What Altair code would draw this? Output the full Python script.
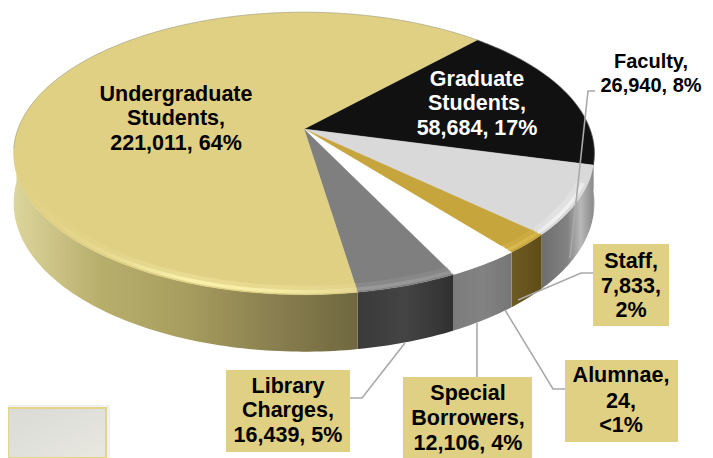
import math
import altair as alt
import pandas as pd

# ---- data ----
categories = ["Graduate Students", "Faculty", "Staff", "Alumnae", "Special Borrowers", "Library Charges", "Undergraduate Students"]
values = [58684, 26940, 7833, 24, 12106, 16439, 221011]
face_colors = ["#111111", "#D9D9D9", "#C6A53C", "#C6A53C", "#FFFFFF", "#7F7F7F", "#DFD083"]
rim_stops = [
    ["#333333", "#777777"],
    ["#EDEDED", "#F8F8F8", "#EFEFEF"],
    ["#DDBE52", "#D8B84C"],
    ["#DDBE52", "#D8B84C"],
    ["#FFFFFF", "#FFFFFF"],
    ["#A0A0A0", "#989898"],
    ["#DFD083", "#E9DB92", "#FFF8B4", "#FBF2AC", "#E8DB98"],
]
wall_stops = [
    ["#555555", "#888888"],
    ["#6E6E6E", "#787878", "#828282", "#B8B8B8", "#8A8A8A"],
    ["#6E5A22", "#5E4C18"],
    ["#6E5A22", "#5E4C18"],
    ["#7C7C7C", "#828282", "#767676"],
    ["#3A3A3A", "#444444", "#303030"],
    ["#DCD59C", "#B8AE6C", "#A79D5E", "#8A8050", "#6F673F"],
]
text_blocks = [
    (["Undergraduate", "Students,", "221,011, 64%"], 176, [95, 119, 144], "#000000", 21.5),
    (["Graduate", "Students,", "58,684, 17%"], 477, [80, 104, 129], "#FFFFFF", 21.5),
    (["Faculty,", "26,940, 8%"], 651, [62, 86], "#000000", 20),
    (["Staff,", "7,833,", "2%"], 631, [262, 287, 311], "#000000", 21.5),
    (["Alumnae,", "24,", "<1%"], 621, [376, 402, 426], "#000000", 21.5),
    (["Special", "Borrowers,", "12,106, 4%"], 468, [394, 419, 444], "#000000", 21.5),
    (["Library", "Charges,", "16,439, 5%"], 288, [387, 411, 436], "#000000", 21.5),
]
label_boxes = [(226, 350, 370, 452), (403, 532, 377, 458), (565, 678, 360, 442), (593, 669, 244, 326)]
leaders = [
    [(405, 343), (362, 398), (350, 398)],
    [(477, 323), (477, 377)],
    [(505, 310), (553, 389), (565, 389)],
    [(518, 300), (581, 273), (593, 273)],
    [(595, 91), (588, 91), (570, 258)],
]

# ---- projection of the tilted disc ----
AX, AY, K, A, B = 304, 129, -0.173, 137, 286
START = 43.0
PAGE_W, PAGE_H = 705, 458


def rim(t, scale=1.0):
    r = math.radians(t)
    u, v = math.sin(r) * scale, -math.cos(r) * scale
    d = 1 + K * v
    return AX + B * u / d, AY + A * v / d, v


def depth(v):
    return 48 + 9 * v


X = alt.X("x:Q", scale=alt.Scale(domain=[8, PAGE_W], nice=False, zero=False), axis=None)
Y = alt.Y("y:Q", scale=alt.Scale(domain=[PAGE_H, 8], nice=False, zero=False), axis=None)


def path(points, **mark):
    df = pd.DataFrame([{"x": p[0], "y": p[1], "i": n} for n, p in enumerate(points)])
    return alt.Chart(df).mark_line(interpolate="linear", **mark).encode(x=X, y=Y, order="i:Q")


def hgrad(colors):
    n = max(len(colors) - 1, 1)
    return alt.Gradient(
        gradient="linear", x1=0, x2=1, y1=0, y2=0,
        stops=[alt.GradientStop(color=c, offset=k / n) for k, c in enumerate(colors)],
    )


def arange(a, b, step=1.0):
    n = max(int(abs(b - a) / step), 1)
    return [a + (b - a) * k / n for k in range(n + 1)]


total = sum(values)
angles = []
t = START
for val in values:
    angles.append((t, t + val / total * 360))
    t = angles[-1][1]

walls, faces, rims = [], [], []
for (a, b), fc, rs, ws in zip(angles, face_colors, rim_stops, wall_stops):
    wa, wb = max(a, 92), min(b, 268)
    if wb > wa:
        ts = arange(wa, wb)
        top = [rim(q) for q in ts]
        bottom = [(p[0], p[1] + depth(p[2])) for p in reversed(top)]
        walls.append(path(top + bottom, fill=hgrad(ws), strokeWidth=0))
    pts = [(AX, AY)] + [rim(q) for q in arange(a, b)] + [(AX, AY)]
    faces.append(path(pts, fill=fc, stroke=fc, strokeWidth=0.4))
    ra, rb = max(a, 112), min(b, 262)
    if rb > ra:
        rims.append(path([rim(q, 0.975) for q in arange(ra, rb)], stroke=hgrad(rs), strokeWidth=8, opacity=0.3))
        rims.append(path([rim(q, 0.985) for q in arange(ra, rb)], stroke=hgrad(rs), strokeWidth=3.5, opacity=0.75))

# faint fringe along the back edge of the disc
fringe = path([rim(q) for q in arange(262, 360 + START + 61)], stroke="#8C8C80", strokeWidth=1, opacity=0.45)

box_df = pd.DataFrame([{"x": b[0], "x2": b[1], "y": b[2], "y2": b[3]} for b in label_boxes])
boxes = alt.Chart(box_df).mark_rect(color="#DFD083").encode(x=X, x2="x2:Q", y=Y, y2="y2:Q")

corner_df = pd.DataFrame([{"x": 8, "x2": 106, "y": 408, "y2": 458}])
corner_shadow = alt.Chart(pd.DataFrame([{"x": 8, "x2": 110, "y": 405, "y2": 458}])).mark_rect(color="#F1F1F1").encode(x=X, x2="x2:Q", y=Y, y2="y2:Q")
corner = alt.Chart(corner_df).mark_rect(
    fill=alt.Gradient(gradient="linear", x1=0, x2=1, y1=0, y2=1,
                      stops=[alt.GradientStop(color="#DADAD6", offset=0), alt.GradientStop(color="#E8E8E0", offset=1)]),
    stroke="#E3D588", strokeWidth=2,
).encode(x=X, x2="x2:Q", y=Y, y2="y2:Q")

leader_layers = [path(l, stroke="#A9A9A9", strokeWidth=1.6) for l in leaders]

text_rows = []
for lines, cx, ys, col, fs in text_blocks:
    for line, yy in zip(lines, ys):
        text_rows.append({"x": cx, "y": yy, "t": line, "c": col, "fs": fs})
texts = alt.Chart(pd.DataFrame(text_rows)).mark_text(
    font="Liberation Sans", fontWeight="bold", align="center", baseline="middle"
).encode(x=X, y=Y, text="t:N", color=alt.Color("c:N", scale=None), size=alt.Size("fs:Q", scale=None, legend=None))

chart = alt.layer(
    *walls, *faces, *rims, fringe, corner_shadow, corner, boxes, *leader_layers, texts
).properties(
    width=PAGE_W - 8, height=PAGE_H - 8, padding=0, autosize=alt.AutoSizeParams(type="none")
).configure_view(stroke=None)

chart.save("out.html", embed_options={"renderer": "svg", "actions": False})
